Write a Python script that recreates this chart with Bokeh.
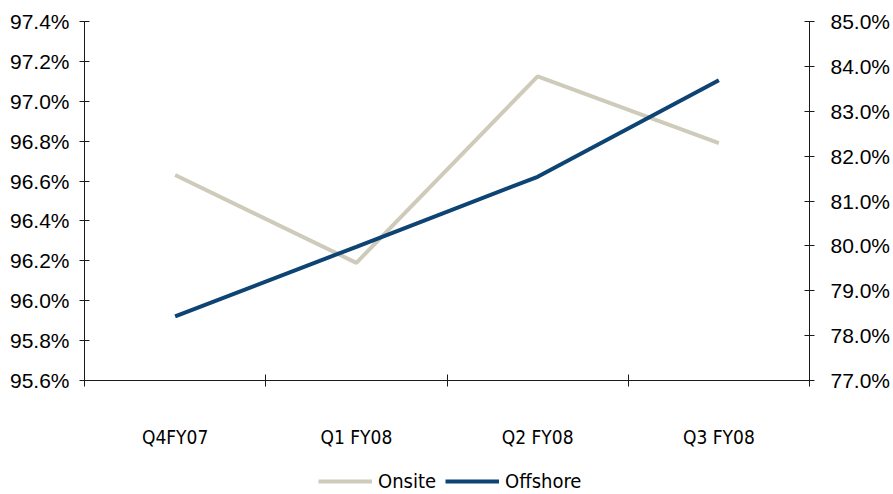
from bokeh.plotting import figure
from bokeh.layouts import column
from bokeh.models import (Range1d, LinearAxis, FixedTicker, PrintfTickFormatter,
                          Legend, LegendItem)
from bokeh.embed import file_html
from bokeh.resources import INLINE

categories = ["Q4FY07", "Q1 FY08", "Q2 FY08", "Q3 FY08"]
onsite = [96.63, 96.19, 97.125, 96.79]      # left axis, %
offshore = [78.43, 79.98, 81.54, 83.69]     # right axis, %
left_ticks = [95.6, 95.8, 96.0, 96.2, 96.4, 96.6, 96.8, 97.0, 97.2, 97.4]
right_ticks = [77.0, 78.0, 79.0, 80.0, 81.0, 82.0, 83.0, 84.0, 85.0]
series_names = ["Onsite", "Offshore"]
series_colors = ["#CECBBA", "#0D4474"]

x = [i + 0.5 for i in range(len(categories))]

NUM_FONT = "Liberation Sans"
COND_FONT = "DejaVu Sans Condensed"
AXIS_COLOR = "#1a1a1a"
TEXT_COLOR = "#000000"

p = figure(width=893, height=450, output_backend="svg", toolbar_location=None,
           x_range=Range1d(0, len(categories)), y_range=Range1d(95.6, 97.4),
           x_axis_type=None, y_axis_type=None,
           min_border_left=84, min_border_right=83, min_border_top=21,
           min_border_bottom=69)
p.outline_line_color = None
p.xgrid.visible = False
p.ygrid.visible = False

p.extra_y_ranges = {"off": Range1d(77.0, 85.0)}

ly = LinearAxis(ticker=FixedTicker(ticks=left_ticks),
                formatter=PrintfTickFormatter(format="%.1f%%"))
ry = LinearAxis(y_range_name="off", ticker=FixedTicker(ticks=right_ticks),
                formatter=PrintfTickFormatter(format="%.1f%%"))
for ax, standoff in ((ly, 10), (ry, 16)):
    ax.axis_line_color = AXIS_COLOR
    ax.major_tick_line_color = AXIS_COLOR
    ax.major_tick_in = 5
    ax.major_tick_out = 5
    ax.minor_tick_line_color = None
    ax.major_label_text_font = NUM_FONT
    ax.major_label_text_font_size = "21px"
    ax.major_label_text_color = TEXT_COLOR
    ax.major_label_standoff = standoff
p.add_layout(ly, "left")
p.add_layout(ry, "right")

xa = LinearAxis(ticker=FixedTicker(ticks=x, minor_ticks=list(range(len(categories) + 1))),
                major_label_overrides={xi: c for xi, c in zip(x, categories)})
xa.axis_line_color = AXIS_COLOR
xa.major_tick_line_color = None
xa.minor_tick_line_color = AXIS_COLOR
xa.minor_tick_in = 6
xa.minor_tick_out = 6
xa.major_label_text_font = COND_FONT
xa.major_label_text_font_size = "19px"
xa.major_label_text_color = TEXT_COLOR
xa.major_label_standoff = 39
p.add_layout(xa, "below")

p.line(x, onsite, line_color=series_colors[0], line_width=4)
p.line(x, offshore, line_color=series_colors[1], line_width=4, y_range_name="off")

# legend strip below the chart (its frame is aligned with the chart's frame)
lg = figure(width=893, height=44, output_backend="svg", toolbar_location=None,
            x_range=Range1d(0, 1), y_range=Range1d(0, 1),
            x_axis_type=None, y_axis_type=None,
            min_border_left=0, min_border_right=0, min_border_top=0, min_border_bottom=0)
lg.outline_line_color = None
lg.xgrid.visible = False
lg.ygrid.visible = False
items = []
for name, col in zip(series_names, series_colors):
    # proxy renderers kept outside the visible range; only their legend glyphs show
    r = lg.line([-5, -4], [-5, -5], line_color=col, line_width=4)
    items.append(LegendItem(label=name, renderers=[r]))
legend = Legend(items=items, orientation="horizontal", location=(234, 1),
                label_text_font=COND_FONT, label_text_font_size="20px",
                label_text_color=TEXT_COLOR,
                glyph_width=54, glyph_height=22, label_standoff=6, spacing=9,
                padding=0, margin=0,
                background_fill_alpha=0, border_line_color=None)
lg.add_layout(legend, "center")

layout = column(p, lg, spacing=0)
open("out.html", "w").write(file_html(layout, INLINE))
